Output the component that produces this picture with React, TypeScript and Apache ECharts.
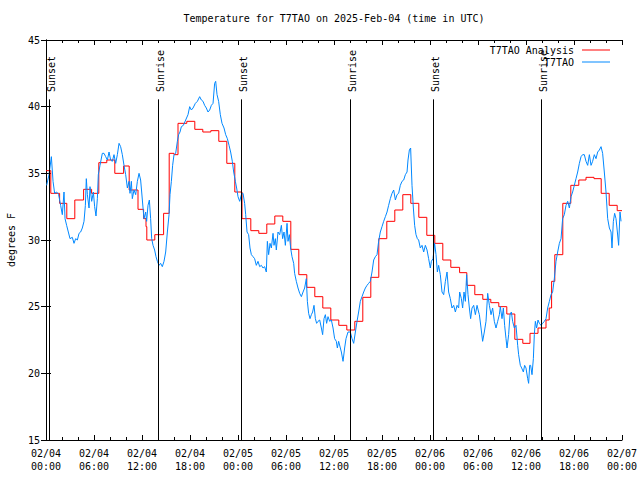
import React, { useEffect, useRef } from "react";
import * as echarts from "echarts";

const titleText = "Temperature for T7TAO on 2025-Feb-04 (time in UTC)";
const yAxisName = "degrees F";
const seriesNames = ["T7TAO Analysis", "T7TAO"];

const xTickLabels = [
  "02/04\n00:00", "02/04\n06:00", "02/04\n12:00", "02/04\n18:00",
  "02/05\n00:00", "02/05\n06:00", "02/05\n12:00", "02/05\n18:00",
  "02/06\n00:00", "02/06\n06:00", "02/06\n12:00", "02/06\n18:00",
  "02/07\n00:00",
];

const sunNames = ["Sunset", "Sunrise", "Sunset", "Sunrise", "Sunset", "Sunrise"];
const sunHours = [0.41, 14.04, 24.42, 38.04, 48.42, 61.9];
const sunLineTop = 40.55;
const sunLabelBase = 41.1;

// hours since 02/04 00:00 UTC where each analysis value starts
const redHours = [
  0, 0.6, 1.7, 2.6, 3.6, 4.7, 5.7, 6.6, 7.6, 8.6, 9.7, 10.4, 11.5, 12.2, 12.5, 12.6,
  13.6, 14.7, 15.4, 16.0, 16.5, 17.6, 18.6, 19.6, 20.6, 21.6, 22.6, 23.6, 24.5, 25.6,
  26.6, 27.6, 28.6, 29.6, 30.6, 31.6, 32.6, 33.6, 34.6, 35.6, 36.6, 37.6, 38.6, 39.6,
  40.6, 41.6, 42.6, 43.6, 44.6, 45.6, 46.6, 47.6, 48.6, 49.6, 50.6, 51.7, 52.6, 53.6,
  54.6, 55.6, 56.6, 57.6, 58.6, 59.6, 60.5, 61.5, 62.5, 62.9, 63.2, 63.6, 64.6, 65.6,
  66.6, 67.5, 68.5, 69.4, 70.4, 71.4, 72,
];
const redTemps = [
  35.2, 33.5, 32.75, 31.6, 33.0, 33.8, 33.5, 35.8, 36.0, 35.0, 35.55, 33.75, 32.3, 31.6, 31.0, 30.0,
  30.4, 32.0, 36.5, 36.4, 38.75, 38.9, 38.3, 38.1, 38.2, 37.4, 35.75, 33.6, 31.6, 30.7,
  30.5, 31.2, 31.8, 31.4, 29.3, 27.4, 26.45, 25.75, 24.9, 24.0, 23.6, 23.25, 23.9, 25.7,
  27.2, 30.1, 31.4, 32.25, 33.4, 32.75, 31.7, 30.35, 29.75, 28.5, 27.95, 27.55, 26.6, 25.9,
  25.55, 25.3, 25.0, 24.45, 22.55, 22.25, 23.0, 23.4, 24.0, 24.9, 26.9, 28.9, 32.75, 34.1,
  34.5, 34.7, 34.6, 33.5, 32.6, 32.2, 32.2,
];

const blueHours = [
  0.08, 0.38, 0.67, 0.88, 1.08, 1.33, 1.58, 1.83, 2.04, 2.25, 2.38, 2.58, 2.79, 3.0, 3.29, 3.5,
  3.71, 3.92, 4.13, 4.33, 4.54, 4.75, 4.92, 5.04, 5.17, 5.38, 5.5, 5.71, 5.92, 6.08, 6.25, 6.42,
  6.54, 6.75, 7.04, 7.25, 7.46, 7.67, 7.88, 8.08, 8.29, 8.5, 8.71, 8.92, 9.13, 9.33, 9.54, 9.75,
  9.96, 10.17, 10.38, 10.5, 10.67, 10.79, 11.0, 11.21, 11.42, 11.63, 11.83, 11.96, 12.13, 12.25,
  12.46, 12.58, 12.75, 12.92, 13.08, 13.21, 13.38, 13.58, 13.75, 13.92, 14.13, 14.33, 14.54, 14.75,
  14.96, 15.17, 15.38, 15.5, 15.67, 15.83, 16.0, 16.21, 16.42, 16.58, 16.75, 16.92, 17.17, 17.46,
  17.75, 17.96, 18.17, 18.38, 18.67, 18.92, 19.21, 19.42, 19.63, 19.83, 20.04, 20.25, 20.46, 20.67,
  20.88, 21.08, 21.21, 21.38, 21.58, 21.79, 22.0, 22.25, 22.46, 22.67, 22.88, 23.08, 23.29, 23.46,
  23.67, 23.83, 24.0, 24.21, 24.42, 24.63, 24.83, 24.96, 25.13, 25.33, 25.5, 25.67, 25.88, 26.08,
  26.29, 26.5, 26.71, 26.92, 27.13, 27.33, 27.54, 27.67, 27.83, 28.0, 28.17, 28.38, 28.5, 28.67,
  28.79, 29.0, 29.21, 29.42, 29.58, 29.75, 29.92, 30.13, 30.25, 30.42, 30.58, 30.75, 30.96, 31.08,
  31.29, 31.5, 31.71, 31.92, 32.13, 32.33, 32.54, 32.67, 32.83, 33.0, 33.17, 33.33, 33.5, 33.67,
  33.83, 34.0, 34.21, 34.42, 34.58, 34.75, 34.92, 35.08, 35.25, 35.46, 35.67, 35.88, 36.08, 36.29,
  36.42, 36.58, 36.92, 37.13, 37.33, 37.5, 37.75, 38.04, 38.25, 38.46, 38.67, 38.88, 39.08, 39.29,
  39.5, 39.71, 39.92, 40.13, 40.33, 40.54, 40.75, 40.96, 41.17, 41.38, 41.58, 41.79, 42.0, 42.21,
  42.42, 42.63, 42.83, 43.04, 43.25, 43.46, 43.67, 43.88, 44.08, 44.29, 44.5, 44.71, 44.92, 45.13,
  45.25, 45.42, 45.58, 45.67, 45.75, 45.92, 46.08, 46.25, 46.42, 46.58, 46.79, 47.0, 47.21, 47.42,
  47.63, 47.83, 48.04, 48.17, 48.38, 48.58, 48.75, 48.92, 49.08, 49.29, 49.5, 49.71, 49.92, 50.13,
  50.33, 50.54, 50.75, 50.96, 51.17, 51.38, 51.58, 51.71, 51.92, 52.08, 52.25, 52.42, 52.58, 52.75,
  52.92, 53.08, 53.25, 53.46, 53.67, 53.88, 54.08, 54.17, 54.38, 54.58, 54.79, 55.0, 55.21, 55.42,
  55.63, 55.83, 56.04, 56.25, 56.46, 56.67, 56.79, 57.0, 57.17, 57.33, 57.5, 57.63, 57.83, 58.0,
  58.17, 58.33, 58.54, 58.75, 58.96, 59.08, 59.29, 59.46, 59.67, 59.83, 60.0, 60.21, 60.33, 60.46,
  60.58, 60.75, 60.92, 61.04, 61.17, 61.33, 61.5, 61.67, 61.88, 62.08, 62.29, 62.5, 62.71, 62.92,
  63.13, 63.33, 63.54, 63.75, 63.96, 64.17, 64.38, 64.58, 64.79, 65.0, 65.21, 65.42, 65.63, 65.83,
  66.04, 66.25, 66.46, 66.67, 66.88, 67.08, 67.29, 67.5, 67.71, 67.92, 68.13, 68.33, 68.54, 68.75,
  68.96, 69.17, 69.38, 69.58, 69.79, 70.0, 70.21, 70.42, 70.63, 70.75, 70.92, 71.08, 71.25, 71.42,
  71.58, 71.75, 71.88,
];
const blueTemps = [
  34.1, 34.9, 36.25, 34.4, 33.5, 33.6, 33.4, 32.6, 31.9, 33.6, 31.6, 31.1, 30.6, 30.1, 30.2, 29.75,
  30.1, 30.0, 30.5, 30.6, 30.9, 31.4, 32.6, 34.6, 33.4, 32.4, 34.0, 32.9, 33.6, 32.5, 31.8, 33.1,
  34.9, 35.6, 36.5, 36.5, 36.25, 36.0, 36.6, 36.0, 35.9, 36.4, 35.75, 36.4, 37.25, 37.0, 36.4, 35.6,
  34.9, 33.9, 34.4, 33.5, 34.4, 33.1, 33.75, 33.4, 34.4, 35.0, 34.5, 33.6, 32.4, 31.6,
  32.1, 31.4, 32.6, 33.0, 31.6, 30.1, 29.6, 29.25, 28.75, 28.4, 28.1, 28.25, 28.0, 28.4,
  29.1, 30.6, 31.9, 33.4, 34.4, 35.6, 36.4, 36.5, 37.4, 37.9, 38.1, 38.5, 38.6, 39.0,
  39.4, 40.0, 39.75, 39.9, 40.25, 40.4, 40.75, 40.5, 40.4, 40.1, 39.9, 39.6, 39.75, 40.1,
  40.25, 41.75, 41.9, 40.9, 40.4, 39.4, 38.75, 38.4, 37.9, 37.6, 37.1, 36.6, 35.9, 35.1,
  34.4, 33.9, 33.25, 32.9, 33.4, 33.5, 32.75, 31.9, 30.6, 30.4, 29.4, 28.9, 28.75, 28.6,
  28.1, 28.4, 28.0, 28.1, 27.9, 28.0, 27.6, 29.9, 28.9, 29.75, 29.4, 30.5, 29.6, 30.1,
  29.25, 30.6, 30.4, 31.1, 30.1, 30.6, 29.6, 31.25, 29.9, 30.4, 29.4, 28.75, 28.25, 27.5,
  26.9, 26.4, 26.0, 25.75, 26.1, 26.4, 27.1, 25.4, 24.5, 24.1, 24.4, 24.6, 25.1, 24.1,
  23.75, 23.9, 24.0, 23.4, 22.9, 24.1, 24.4, 23.75, 24.25, 23.9, 24.0, 23.4, 22.6, 22.4,
  21.9, 22.4, 21.6, 20.9, 21.9, 22.6, 23.1, 23.1, 22.6, 22.25, 23.1, 23.9, 24.6, 25.4,
  25.75, 26.1, 26.4, 26.6, 26.75, 26.9, 27.6, 28.5, 28.75, 28.9, 29.9, 30.6, 31.0, 31.4,
  31.75, 32.1, 32.6, 33.1, 33.5, 33.75, 33.0, 33.4, 33.5, 34.1, 34.4, 34.5, 34.9, 35.1,
  36.0, 36.75, 36.9, 35.4, 34.1, 32.4, 31.1, 30.4, 30.1, 30.0, 29.4, 29.6, 29.1, 29.6,
  29.25, 28.6, 27.9, 28.4, 28.6, 29.75, 28.9, 27.6, 28.1, 27.4, 26.1, 25.9, 26.9, 27.6,
  26.1, 25.6, 24.9, 25.1, 24.6, 25.1, 24.9, 26.1, 25.6, 24.9, 26.1, 25.4, 27.4, 25.9,
  24.9, 24.1, 24.9, 25.1, 24.4, 25.1, 24.6, 24.4, 23.4, 22.4, 23.1, 23.9, 26.0, 25.1,
  24.4, 24.9, 23.9, 23.4, 23.9, 24.4, 25.0, 24.1, 24.9, 23.6, 22.6, 21.9, 22.9, 24.4,
  24.6, 23.9, 23.4, 23.6, 22.1, 21.4, 20.6, 20.4, 20.1, 20.6, 20.4, 19.6, 19.25, 20.6,
  20.6, 19.9, 21.1, 22.9, 23.9, 23.4, 24.0, 23.75, 23.6, 23.75, 23.9, 24.1, 24.9, 25.4,
  25.9, 26.1, 27.1, 28.4, 29.1, 29.75, 30.1, 31.6, 31.9, 32.6, 32.9, 32.4, 33.25, 33.6,
  34.1, 34.6, 35.1, 35.75, 36.25, 36.4, 36.4, 35.9, 35.6, 36.4, 35.6, 35.9, 36.4, 36.1,
  36.6, 36.75, 37.0, 36.5, 35.1, 33.6, 31.6, 30.9, 30.6, 29.4, 31.4, 32.0, 31.6, 30.6,
  29.6, 32.1, 31.4,
];

const FONT = '"DejaVu Sans Mono", monospace';
const FS = 10;
const RED = "#ff0000";
const BLUE = "#0088ff";

export default function App() {
  const ref = useRef<HTMLDivElement>(null);

  useEffect(() => {
    if (!ref.current) return;
    const chart = echarts.init(ref.current, null, { renderer: "svg" });
    const axisCommon = {
      type: "value" as const,
      axisLine: { show: true, lineStyle: { color: "#000", width: 1 } },
      splitLine: { show: false },
    };
    const option: any = {
      animation: false,
      backgroundColor: "#fff",
      textStyle: { fontFamily: FONT, color: "#000" },
      title: {
        text: titleText,
        left: 334,
        textAlign: "center",
        top: 13,
        padding: 0,
        textStyle: { fontSize: FS, fontWeight: "normal", fontFamily: FONT, color: "#000" },
      },
      legend: {
        orient: "vertical",
        right: 30,
        top: 44,
        align: "right",
        icon: "rect",
        itemWidth: 28,
        itemHeight: 1,
        itemGap: 0,
        padding: 0,
        data: seriesNames,
        textStyle: {
          fontSize: FS,
          fontFamily: FONT,
          color: "#000",
          lineHeight: 12,
          padding: [0, 3, 0, 0],
        },
      },
      grid: { left: 46, right: 18, top: 40, bottom: 40, outerBoundsMode: "none", containLabel: false },
      xAxis: [
        {
          ...axisCommon,
          position: "bottom",
          min: 0,
          max: 72,
          interval: 6,
          axisTick: { show: true, inside: true, length: 5, lineStyle: { color: "#000" } },
          minorTick: { show: true, splitNumber: 3, length: 3, lineStyle: { color: "#000" } },
          minorSplitLine: { show: false },
          axisLabel: {
            margin: 7,
            fontSize: FS,
            lineHeight: 13,
            fontFamily: FONT,
            color: "#000",
            formatter: (v: number) => xTickLabels[Math.round(v / 6)] ?? "",
          },
        },
        {
          ...axisCommon,
          position: "top",
          min: 0,
          max: 72,
          interval: 6,
          axisTick: { show: true, inside: true, length: 5, lineStyle: { color: "#000" } },
          minorTick: { show: true, splitNumber: 3, length: 3, lineStyle: { color: "#000" } },
          axisLabel: { show: false },
        },
      ],
      yAxis: [
        {
          ...axisCommon,
          position: "left",
          min: 15,
          max: 45,
          interval: 5,
          name: yAxisName,
          nameLocation: "middle",
          nameRotate: 90,
          nameGap: 30,
          nameTextStyle: { fontSize: FS, fontFamily: FONT, color: "#000" },
          axisTick: { show: true, inside: true, length: 5, lineStyle: { color: "#000" } },
          axisLabel: { margin: 6, fontSize: FS, fontFamily: FONT, color: "#000" },
        },
        {
          ...axisCommon,
          position: "right",
          min: 15,
          max: 45,
          interval: 5,
          axisTick: { show: true, inside: true, length: 5, lineStyle: { color: "#000" } },
          axisLabel: { show: false },
        },
      ],
      series: [
        {
          name: seriesNames[0],
          type: "line",
          step: "end",
          symbol: "none",
          color: RED,
          lineStyle: { color: RED, width: 1 },
          data: redHours.map((h, i) => [h, redTemps[i]]),
          z: 2,
          markLine: {
            silent: true,
            symbol: "none",
            label: { show: false },
            lineStyle: { color: "#000", type: "solid", width: 1 },
            emphasis: { disabled: true },
            data: sunHours.map((h) => [{ coord: [h, sunLineTop] }, { coord: [h, 15] }]),
          },
        },
        {
          name: seriesNames[1],
          type: "line",
          symbol: "none",
          color: BLUE,
          lineStyle: { color: BLUE, width: 1 },
          data: blueHours.map((h, i) => [h, blueTemps[i]]),
          z: 3,
        },
      ],
    };
    chart.setOption(option);
    const graphics = sunHours.map((h, i) => {
      const p = chart.convertToPixel({ xAxisIndex: 0, yAxisIndex: 0 }, [h, sunLabelBase]) as number[];
      return {
        type: "text",
        x: p[0] + 2,
        y: p[1],
        rotation: Math.PI / 2,
        style: {
          text: sunNames[i],
          font: `${FS}px ${FONT}`,
          fill: "#000",
          textAlign: "left",
          textVerticalAlign: "middle",
          verticalAlign: "middle",
        },
      };
    });
    chart.setOption({ graphic: graphics });
    return () => chart.dispose();
  }, []);

  return (
    <div
      ref={ref}
      style={{ position: "fixed", left: 0, top: 0, width: 640, height: 480, background: "#fff" }}
    />
  );
}
